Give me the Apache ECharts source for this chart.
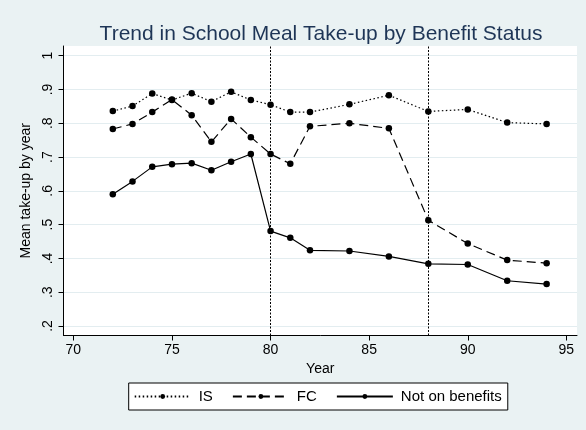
<!DOCTYPE html>
<html><head><meta charset="utf-8">
<script src="https://cdn.jsdelivr.net/npm/echarts@6/dist/echarts.min.js"></script>
<style>html,body{margin:0;padding:0;background:#EAF2F3}#c{width:586px;height:430px}</style>
</head><body><div id="c"></div>
<script>
const years = [72,73,74,75,76,77,78,79,80,81,82,84,86,88,90,92,94];
const isValues = [0.836,0.851,0.888,0.869,0.889,0.864,0.893,0.869,0.855,0.833,0.833,0.856,0.883,0.835,0.841,0.802,0.798];
const fcValues = [0.783,0.798,0.833,0.870,0.824,0.745,0.813,0.759,0.709,0.680,0.791,0.800,0.785,0.513,0.444,0.395,0.386];
const notValues = [0.590,0.628,0.671,0.679,0.682,0.661,0.686,0.709,0.481,0.461,0.424,0.422,0.406,0.384,0.382,0.334,0.324];
const xTicks = [70,75,80,85,90,95];
const yTicks = [0.2,0.3,0.4,0.5,0.6,0.7,0.8,0.9,1];
const reformYears = [80,88];
const seriesNames = ['IS','FC','Not on benefits'];
const titleText = 'Trend in School Meal Take-up by Benefit Status';

const FONT = 'Liberation Sans, Arial, sans-serif';
const pair = (vals) => years.map((y,i)=>[y, vals[i]]);
const fmtY = v => { const s = Number(v).toFixed(1); return s === '1.0' ? '1' : s.replace(/^0/, ''); };

const chart = echarts.init(document.getElementById('c'), null, {renderer:'canvas'});
const mk = (name, vals, type, extra) => Object.assign({
  name, type:'line', data: pair(vals), symbol:'circle', symbolSize:6.5,
  itemStyle:{color:'#000'}, lineStyle:{color:'#000', width:1.2, type},
  emphasis:{disabled:true}, animation:false, z:3
}, extra||{});

chart.setOption({
  backgroundColor:'#EAF2F3',
  animation:false,
  textStyle:{fontFamily:FONT},
  title:{text:titleText, left:316, top:19, textAlign:'center',
    textStyle:{fontFamily:FONT, fontSize:21, fontWeight:'normal', color:'#1E3556'}},
  grid:{left:63.5, right:9, top:46, bottom:94.5, show:true, backgroundColor:'#fff', borderWidth:0},
  xAxis:{type:'value', min:69.5, max:95.54,
    name:'Year', nameLocation:'middle', nameGap:22,
    nameTextStyle:{fontFamily:FONT, fontSize:14, color:'#000'},
    axisLine:{show:true, onZero:false, lineStyle:{color:'#000', width:1}},
    axisTick:{show:true, length:5, customValues:xTicks, lineStyle:{color:'#000'}},
    axisLabel:{customValues:xTicks, fontSize:14, color:'#000', margin:8, fontFamily:FONT},
    splitLine:{show:false}},
  yAxis:{type:'value', min:0.1719, max:1.0287,
    name:'Mean take-up by year', nameLocation:'middle', nameGap:21,
    nameTextStyle:{fontFamily:FONT, fontSize:14, color:'#000'},
    axisLine:{show:true, onZero:false, lineStyle:{color:'#000', width:1}},
    axisTick:{show:true, length:5, customValues:yTicks, lineStyle:{color:'#000'}},
    axisLabel:{customValues:yTicks, fontSize:14, color:'#000', rotate:90, margin:8, formatter:fmtY, fontFamily:FONT},
    splitLine:{show:true, lineStyle:{color:'#E3EDF0', width:1.2}}},
  legend:{data:seriesNames, left:128.7, top:383, orient:'horizontal',
    itemWidth:56, itemHeight:6, itemGap:19,
    padding:[6,6,6,5],
    backgroundColor:'#fff', borderColor:'#000', borderWidth:1, borderRadius:0,
    textStyle:{fontFamily:FONT, fontSize:15, color:'#000', padding:[0,0,0,3]}},
  series:[
    mk(seriesNames[0], isValues, [1.5,2.5], {
      markLine:{symbol:'none', silent:true, animation:false, label:{show:false},
        lineStyle:{color:'#000', width:1, type:[2,1.5]},
        data: reformYears.map(v=>({xAxis:v}))}
    }),
    mk(seriesNames[1], fcValues, [9,5]),
    mk(seriesNames[2], notValues, 'solid')
  ]
});
</script></body></html>
